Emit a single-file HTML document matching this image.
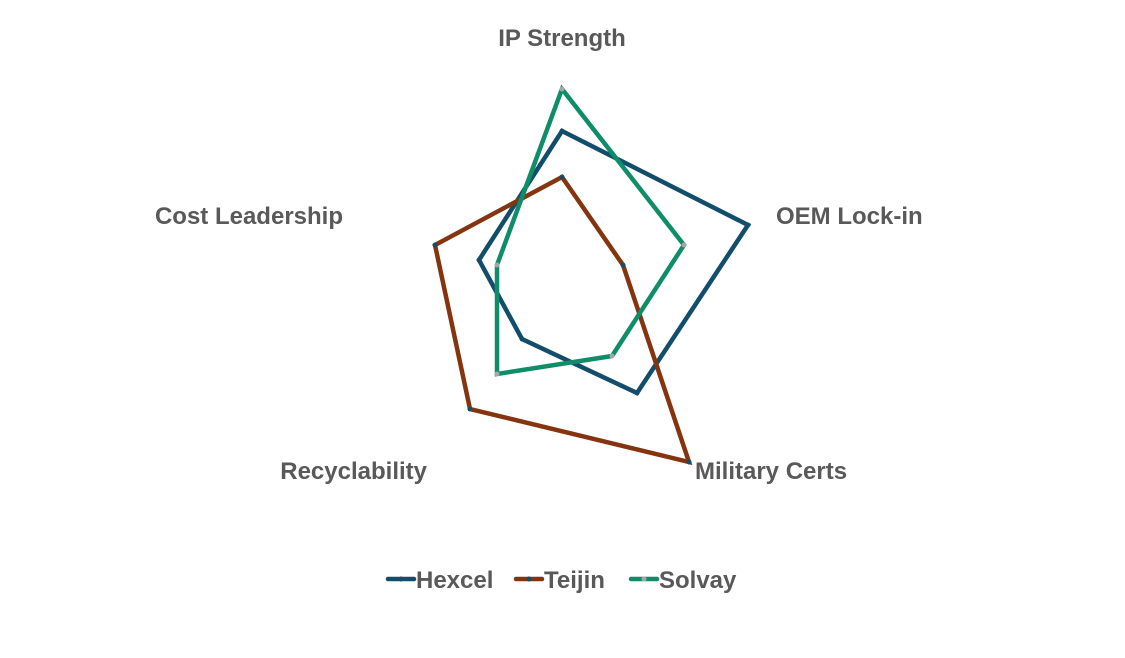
<!DOCTYPE html>
<html><head><meta charset="utf-8"><style>
html,body{margin:0;padding:0;background:#fff;}
svg text{font-family:"Liberation Sans",sans-serif;font-weight:bold;fill:#595959;}
</style></head><body>
<svg width="1125" height="653" viewBox="0 0 1125 653" xmlns="http://www.w3.org/2000/svg">
<rect width="1125" height="653" fill="#fff"/>
<g font-size="24">
<text x="562" y="46" text-anchor="middle">IP Strength</text>
<text x="776" y="224">OEM Lock-in</text>
<text x="695" y="479">Military Certs</text>
<text x="427" y="479" text-anchor="end">Recyclability</text>
<text x="343" y="224" text-anchor="end">Cost Leadership</text>
</g>
<g fill="none" stroke-width="4.5" stroke-linejoin="miter">
<polygon points="562,131 748,225 637,393 522,339 479,260" stroke="#124e6b"/>
<polygon points="562,177 623,265 689,462 470,409 435,245" stroke="#843510"/>
<polygon points="562,89 684,245 612,356 497,374 497,265" stroke="#0e8d68"/>
</g>
<g fill="#124e6b">
<circle cx="562" cy="131" r="2.5"/><circle cx="748" cy="225" r="2.5"/><circle cx="637" cy="393" r="2.5"/><circle cx="522" cy="339" r="2.5"/><circle cx="479" cy="260" r="2.5"/>
<circle cx="562" cy="177" r="2.5"/><circle cx="623" cy="265" r="2.5"/><circle cx="689" cy="462" r="2.5"/><circle cx="470" cy="409" r="2.5"/><circle cx="435" cy="245" r="2.5"/>
</g>
<g fill="#a6a6a6">
<circle cx="562" cy="89" r="2.5"/><circle cx="684" cy="245" r="2.5"/><circle cx="612" cy="356" r="2.5"/><circle cx="497" cy="374" r="2.5"/><circle cx="497" cy="265" r="2.5"/>
</g>
<g stroke-width="4.5" stroke-linecap="round">
<line x1="388" y1="579" x2="414" y2="579" stroke="#124e6b"/>
<line x1="516" y1="579" x2="542" y2="579" stroke="#843510"/>
<line x1="631" y1="579" x2="657" y2="579" stroke="#0e8d68"/>
</g>
<circle cx="401" cy="579" r="2.5" fill="#124e6b"/>
<circle cx="529" cy="579" r="2.5" fill="#124e6b"/>
<circle cx="644" cy="579" r="2.5" fill="#a6a6a6"/>
<g font-size="24">
<text x="416" y="588">Hexcel</text>
<text x="544" y="588">Teijin</text>
<text x="659" y="588">Solvay</text>
</g>
</svg>
</body></html>
